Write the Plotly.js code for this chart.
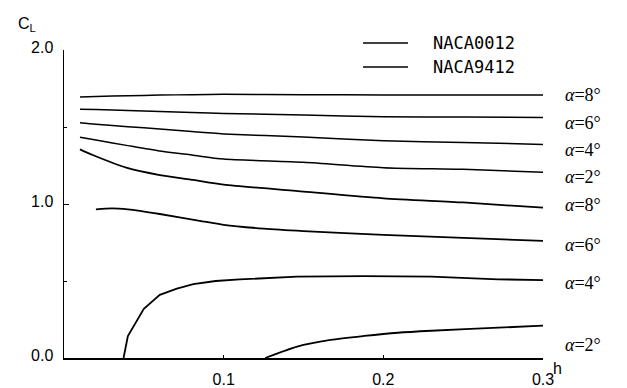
<!DOCTYPE html>
<html>
<head>
<meta charset="utf-8">
<script src="https://cdn.plot.ly/plotly-3.0.1.min.js"></script>
<style>html,body{margin:0;padding:0;background:#fff;}#chart{width:627px;height:388px;}</style>
</head>
<body>
<div id="chart"></div>
<script>
// ---- data ----
const h_9412 = [0.01, 0.02, 0.04, 0.06, 0.08, 0.10, 0.15, 0.20, 0.25, 0.30];
const cl_9412_a8 = [1.695, 1.698, 1.703, 1.707, 1.710, 1.712, 1.710, 1.708, 1.708, 1.708];
const cl_9412_a6 = [1.615, 1.613, 1.607, 1.600, 1.594, 1.588, 1.578, 1.567, 1.565, 1.562];
const cl_9412_a4 = [1.528, 1.518, 1.502, 1.487, 1.470, 1.455, 1.435, 1.411, 1.400, 1.387];
const cl_9412_a2 = [1.433, 1.416, 1.379, 1.344, 1.318, 1.292, 1.271, 1.236, 1.225, 1.206];

const h_0012_a8 = [0.01, 0.018, 0.039, 0.06, 0.081, 0.10, 0.15, 0.20, 0.25, 0.30];
const cl_0012_a8 = [1.355, 1.318, 1.236, 1.188, 1.156, 1.126, 1.081, 1.037, 1.010, 0.976];

const h_0012_a6 = [0.02, 0.03, 0.04, 0.06, 0.085, 0.10, 0.125, 0.15, 0.20, 0.25, 0.30];
const cl_0012_a6 = [0.965, 0.972, 0.965, 0.935, 0.891, 0.865, 0.840, 0.824, 0.800, 0.780, 0.760];

const h_0012_a4 = [0.0373, 0.040, 0.050, 0.060, 0.0707, 0.081, 0.095, 0.11, 0.146, 0.188, 0.23, 0.272, 0.30];
const cl_0012_a4 = [0.0, 0.143, 0.32, 0.41, 0.45, 0.48, 0.50, 0.51, 0.528, 0.532, 0.528, 0.511, 0.506];

const h_0012_a2 = [0.126, 0.146, 0.167, 0.188, 0.209, 0.23, 0.272, 0.30];
const cl_0012_a2 = [0.0, 0.074, 0.117, 0.143, 0.164, 0.177, 0.197, 0.21];

const xTicks = [0.1, 0.2, 0.3];
const yTicks = [0, 1, 2];
const seriesNames = ["NACA0012", "NACA9412"];
const alphaLabels9412 = ["8", "6", "4", "2"];
const alphaLabels0012 = ["8", "6", "4", "2"];

// ---- drawing ----
const SANS = "Liberation Sans, Arial, sans-serif";
const MONO = "DejaVu Sans Mono, monospace";
const SERIF = "Liberation Serif, Times New Roman, serif";

function tr(x, y, name, w, shape) {
  return {x: x, y: y, type: "scatter", mode: "lines", name: name,
    legendgroup: name, showlegend: false,
    line: {color: "#000", width: w, shape: shape, smoothing: 0.7}, hoverinfo: "skip"};
}

const data = [
  tr(h_0012_a8, cl_0012_a8, seriesNames[0], 1.8, "spline"),
  tr(h_0012_a6, cl_0012_a6, seriesNames[0], 1.8, "spline"),
  tr(h_0012_a4, cl_0012_a4, seriesNames[0], 1.8, "linear"),
  tr(h_0012_a2, cl_0012_a2, seriesNames[0], 1.8, "spline"),
  tr(h_9412, cl_9412_a8, seriesNames[1], 1.5, "spline"),
  tr(h_9412, cl_9412_a6, seriesNames[1], 1.5, "spline"),
  tr(h_9412, cl_9412_a4, seriesNames[1], 1.5, "spline"),
  tr(h_9412, cl_9412_a2, seriesNames[1], 1.5, "spline")
];

// plot area: x 64..543, y 50..358 ; paper (margins) top at 20
const labelY9412 = [1.708, 1.526, 1.351, 1.175];
const labelY0012 = [0.994, 0.734, 0.487, 0.084];
const annotations = [];
const shapes = [];
function alphaLabel(t, y) {
  annotations.push({x: 0.3, y: y, xref: "x", yref: "y", xanchor: "left", yanchor: "middle",
    xshift: 20, showarrow: false, text: "<i>α</i>=" + t + "°",
    font: {family: SERIF, size: 18, color: "#000"}});
}
alphaLabels9412.forEach((t, i) => alphaLabel(t, labelY9412[i]));
alphaLabels0012.forEach((t, i) => alphaLabel(t, labelY0012[i]));
annotations.push({x: 0, y: 1, xref: "paper", yref: "paper", xanchor: "left", yanchor: "middle",
  xshift: -48, yshift: -4, showarrow: false, text: "C<sub>L</sub>",
  font: {family: SANS, size: 16, color: "#000"}});
annotations.push({x: 0.3, y: 0, xref: "x", yref: "y", xanchor: "left", yanchor: "middle",
  xshift: 8, yshift: -10, showarrow: false, text: "h",
  font: {family: SANS, size: 16, color: "#000"}});

// legend (key lines + names)
const legendRowsY = [43, 67]; // pixel rows
seriesNames.forEach((n, i) => {
  const py = (358 - legendRowsY[i]) / 338;
  shapes.push({type: "line", xref: "paper", yref: "paper",
    x0: (363 - 64) / 479, x1: (408 - 64) / 479, y0: py, y1: py,
    line: {color: "#000", width: 1.3}});
  annotations.push({x: (431 - 64) / 479, y: py, xref: "paper", yref: "paper",
    xanchor: "left", yanchor: "middle", showarrow: false, text: n,
    font: {family: MONO, size: 17, color: "#000"}});
});

const layout = {
  width: 627, height: 388,
  margin: {l: 64, r: 84, t: 20, b: 30},
  paper_bgcolor: "#fff", plot_bgcolor: "#fff",
  showlegend: false,
  xaxis: {range: [0, 0.3], tickvals: xTicks, tickformat: ".1f", ticks: "inside", ticklen: 3,
    tickcolor: "#000", showline: true, linecolor: "#000", linewidth: 1.5, showgrid: false,
    zeroline: false, ticklabelstandoff: 6, tickfont: {family: SANS, size: 16, color: "#000"}},
  yaxis: {range: [0, 2], domain: [0, (358 - 50) / 338], tickvals: yTicks, tickformat: ".1f",
    ticks: "inside", ticklen: 5,
    tickcolor: "#000", showline: true, linecolor: "#000", linewidth: 1.5, showgrid: false,
    zeroline: false, tickfont: {family: SANS, size: 16, color: "#000"}, ticklabelstandoff: 6,
    ticklabelshift: -3,
    minor: {tickvals: [0.5, 1.5], ticks: "inside", ticklen: 3, tickcolor: "#000"}},
  annotations: annotations,
  shapes: shapes
};

Plotly.newPlot("chart", data, layout, {staticPlot: true, displayModeBar: false});
</script>
</body>
</html>
